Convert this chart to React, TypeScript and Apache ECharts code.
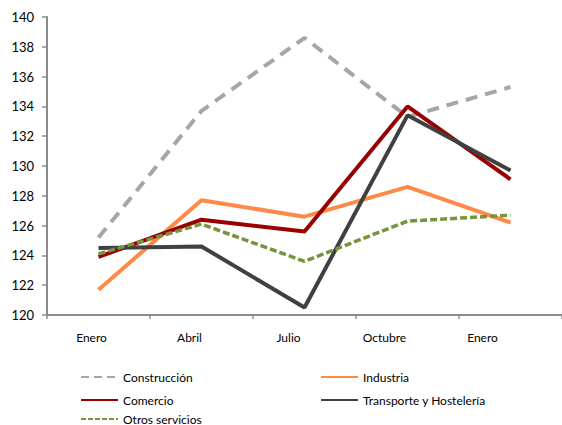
import React, { useEffect, useRef } from "react";
import * as echarts from "echarts";

const categories = ["Enero", "Abril", "Julio", "Octubre", "Enero"];
const construccion = [125.2, 133.7, 138.6, 133.3, 135.3];
const industria = [121.7, 127.7, 126.6, 128.6, 126.2];
const comercio = [123.9, 126.4, 125.6, 134.0, 129.1];
const transporte = [124.5, 124.6, 120.5, 133.4, 129.7];
const otros = [124.1, 126.1, 123.6, 126.3, 126.7];

const FONT = "Lato";
// horizontal shift of each x label (px, to the left), as in the reference
const labelShift = [7, 12, 16, 23, 28];

export default function App() {
  const ref = useRef<HTMLDivElement>(null);
  useEffect(() => {
    if (!ref.current) return;
    const chart = echarts.init(ref.current, undefined, { renderer: "svg" });
    const mk = (name: string, data: number[], color: string, width: number, type: any) => ({
      name,
      type: "line",
      data,
      symbol: "none",
      lineStyle: { color, width, type, cap: "butt" },
      itemStyle: { color },
    });
    const legendBase = {
      itemWidth: 37,
      itemHeight: 12,
      itemGap: 4,
      padding: 0,
      itemStyle: { opacity: 0 },
      textStyle: { fontFamily: FONT, fontSize: 12, color: "#000", lineHeight: 12 },
    };
    const rich: Record<string, any> = {};
    labelShift.forEach((s, i) => {
      rich["l" + i] = { fontFamily: FONT, fontSize: 12, color: "#000", padding: [0, s * 2, 0, 0] };
    });
    chart.setOption({
      animation: false,
      grid: { left: 47, top: 17, bottom: 110, right: -8, containLabel: false },
      xAxis: {
        type: "category",
        data: categories,
        boundaryGap: true,
        axisLine: { lineStyle: { color: "#8c8c8c", width: 2 } },
        axisTick: { show: true, length: 4, lineStyle: { color: "#8c8c8c", width: 1.5 } },
        axisLabel: {
          fontFamily: FONT,
          fontSize: 12,
          color: "#000",
          margin: 16,
          formatter: (v: string, i: number) => `{l${i}|${v}}`,
          rich,
        },
      },
      yAxis: {
        type: "value",
        min: 120,
        max: 140,
        interval: 2,
        axisLine: { show: true, lineStyle: { color: "#8c8c8c", width: 2 } },
        axisTick: { show: true, inside: false, length: 5, lineStyle: { color: "#8c8c8c", width: 1.5 } },
        splitLine: { show: false },
        axisLabel: { fontFamily: FONT, fontSize: 13, color: "#000", margin: 13 },
      },
      legend: [
        { ...legendBase, data: ["Construcción"], left: 80, top: 371, lineStyle: { type: [8, 5] } },
        { ...legendBase, data: ["Industria"], left: 320, top: 371 },
        { ...legendBase, data: ["Comercio"], left: 80, top: 394 },
        { ...legendBase, data: ["Transporte y Hostelería"], left: 320, top: 394 },
        { ...legendBase, data: ["Otros servicios"], left: 80, top: 413, lineStyle: { type: [5, 2] } },
      ],
      series: [
        mk("Construcción", construccion, "#A6A6A6", 4, [12, 8]),
        mk("Industria", industria, "#FF8A47", 4, "solid"),
        mk("Comercio", comercio, "#990000", 4, "solid"),
        mk("Transporte y Hostelería", transporte, "#404040", 4, "solid"),
        mk("Otros servicios", otros, "#77933C", 3.5, [7, 3]),
      ],
    });
    return () => chart.dispose();
  }, []);
  return <div ref={ref} style={{ width: 562, height: 425, position: "absolute", left: 0, top: 0 }} />;
}
